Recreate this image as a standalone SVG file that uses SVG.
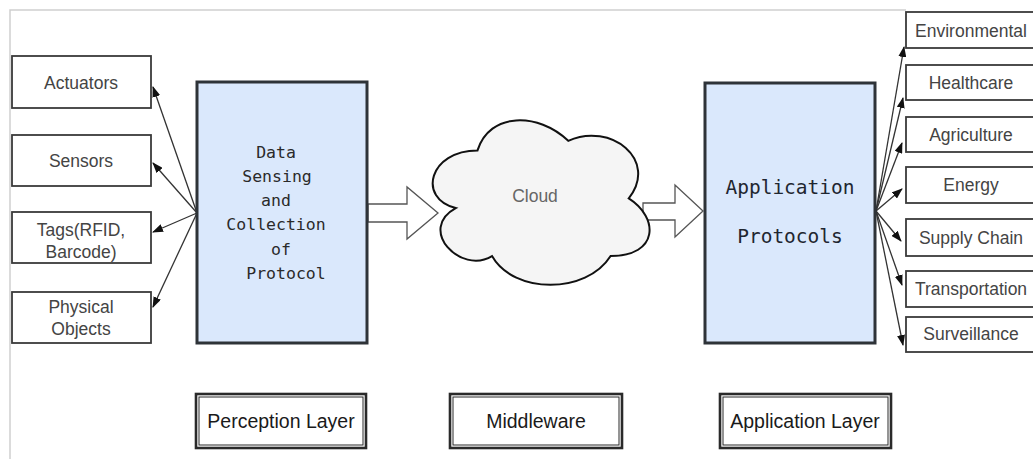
<svg xmlns="http://www.w3.org/2000/svg" width="1033" height="459" viewBox="0 0 1033 459">
<style>
.box{fill:#fff;stroke:#3a3a3a;stroke-width:1.8}
.main{fill:#dae8fc;stroke:#2e3338;stroke-width:3}
.t{font-family:"Liberation Sans",Arial,sans-serif;font-size:17.5px;fill:#444;text-anchor:middle}
.m{font-family:"DejaVu Sans Mono","Liberation Mono",monospace;fill:#2a2a2a;text-anchor:middle}
.lb{font-family:"Liberation Sans",Arial,sans-serif;font-size:19.5px;fill:#1a1a1a;text-anchor:middle}
.lo{fill:#fff;stroke:#2a2a2a;stroke-width:2.6}
.li{fill:none;stroke:#2a2a2a;stroke-width:1}
.c{stroke:#333;stroke-width:1.3;fill:none;marker-end:url(#ah)}
.blk{fill:#fff;stroke:#555;stroke-width:1.3}
</style>
<defs>
<marker id="ah" markerWidth="11" markerHeight="8" refX="10" refY="4" orient="auto" markerUnits="userSpaceOnUse">
<path d="M0,0 L11,4 L0,8 Z" fill="#111"/>
</marker>
</defs>
<rect width="1033" height="459" fill="#fff"/>
<path d="M10,459 L10,10 L906,10" fill="none" stroke="#cfcfcf" stroke-width="1.5"/>

<g id="connectors">
<line class="c" x1="197" y1="213" x2="153" y2="87"/>
<line class="c" x1="197" y1="213" x2="153" y2="163"/>
<line class="c" x1="197" y1="213" x2="153" y2="232"/>
<line class="c" x1="197" y1="213" x2="153" y2="307"/>
<path class="blk" d="M368,204 L407,204 L407,187 L438,213 L407,239 L407,222 L368,222 Z"/>
<path class="blk" d="M643,203 L675,203 L675,185 L703,211 L675,237 L675,220 L643,220 Z"/>
<line class="c" x1="876" y1="211" x2="904" y2="47"/>
<line class="c" x1="876" y1="211" x2="903" y2="98"/>
<line class="c" x1="876" y1="211" x2="902" y2="143"/>
<line class="c" x1="876" y1="211" x2="902" y2="189"/>
<line class="c" x1="876" y1="211" x2="901" y2="241"/>
<line class="c" x1="876" y1="211" x2="902" y2="285"/>
<line class="c" x1="876" y1="211" x2="903" y2="345"/>
</g>

<g id="actuators"><rect class="box" x="12" y="56" width="139" height="52"/><text class="t" x="81" y="89">Actuators</text></g>
<g id="sensors"><rect class="box" x="12" y="135" width="139" height="51"/><text class="t" x="81" y="167">Sensors</text></g>
<g id="tags"><rect class="box" x="12" y="212" width="139" height="51"/><text class="t" x="81" y="236">Tags(RFID,</text><text class="t" x="81" y="258">Barcode)</text></g>
<g id="physical"><rect class="box" x="12" y="292" width="139" height="51"/><text class="t" x="81" y="313">Physical</text><text class="t" x="81" y="335">Objects</text></g>

<g id="data-sensing"><rect class="main" x="197" y="82" width="170" height="261"/>
<text class="m" font-size="16.5" x="276" y="158">Data</text>
<text class="m" font-size="16.5" x="277" y="182">Sensing</text>
<text class="m" font-size="16.5" x="276" y="206">and</text>
<text class="m" font-size="16.5" x="276" y="230">Collection</text>
<text class="m" font-size="16.5" x="281" y="255">of</text>
<text class="m" font-size="16.5" x="286" y="279">Protocol</text>
</g>

<g id="cloud"><path transform="translate(538,199) scale(1.1,1.15) translate(-538,-199)" vector-effect="non-scaling-stroke" d="M483,156.75 C439,156.75 428,198.5 463.2,206.85 C428,225.2 467.6,265.3 496.2,248.6 C516,282 582,282 604,248.6 C648,248.6 648,215.2 620.5,198.5 C648,165.1 604,131.7 565.5,148.4 C538,123.35 494,123.35 483,156.75 Z" fill="#f5f5f5" stroke="#111" stroke-width="2"/>
<text class="t" x="535" y="202" style="fill:#666">Cloud</text></g>

<g id="app-protocols"><rect class="main" x="705" y="83" width="170" height="260"/>
<text class="m" font-size="19.5" x="790" y="194" style="fill:#1f2630">Application</text>
<text class="m" font-size="19.5" x="790" y="243" style="fill:#1f2630">Protocols</text>
</g>

<g id="environmental"><rect class="box" x="906" y="12" width="130" height="36"/><text class="t" x="971" y="37">Environmental</text></g>
<g id="healthcare"><rect class="box" x="906" y="65" width="130" height="35"/><text class="t" x="971" y="89">Healthcare</text></g>
<g id="agriculture"><rect class="box" x="906" y="117" width="130" height="35"/><text class="t" x="971" y="141">Agriculture</text></g>
<g id="energy"><rect class="box" x="906" y="167" width="130" height="36"/><text class="t" x="971" y="191">Energy</text></g>
<g id="supply-chain"><rect class="box" x="906" y="219" width="130" height="37"/><text class="t" x="971" y="244">Supply Chain</text></g>
<g id="transportation"><rect class="box" x="906" y="271" width="130" height="36"/><text class="t" x="971" y="295">Transportation</text></g>
<g id="surveillance"><rect class="box" x="906" y="317" width="130" height="35"/><text class="t" x="971" y="340">Surveillance</text></g>

<g id="perception-layer"><rect class="lo" x="196" y="394" width="170" height="54"/><rect class="li" x="199" y="397" width="164" height="48"/><text class="lb" x="281" y="428">Perception Layer</text></g>
<g id="middleware"><rect class="lo" x="450" y="394" width="172" height="54"/><rect class="li" x="453" y="397" width="166" height="48"/><text class="lb" x="536" y="428">Middleware</text></g>
<g id="application-layer"><rect class="lo" x="720" y="394" width="171" height="54"/><rect class="li" x="723" y="397" width="165" height="48"/><text class="lb" x="805" y="428">Application Layer</text></g>
</svg>
